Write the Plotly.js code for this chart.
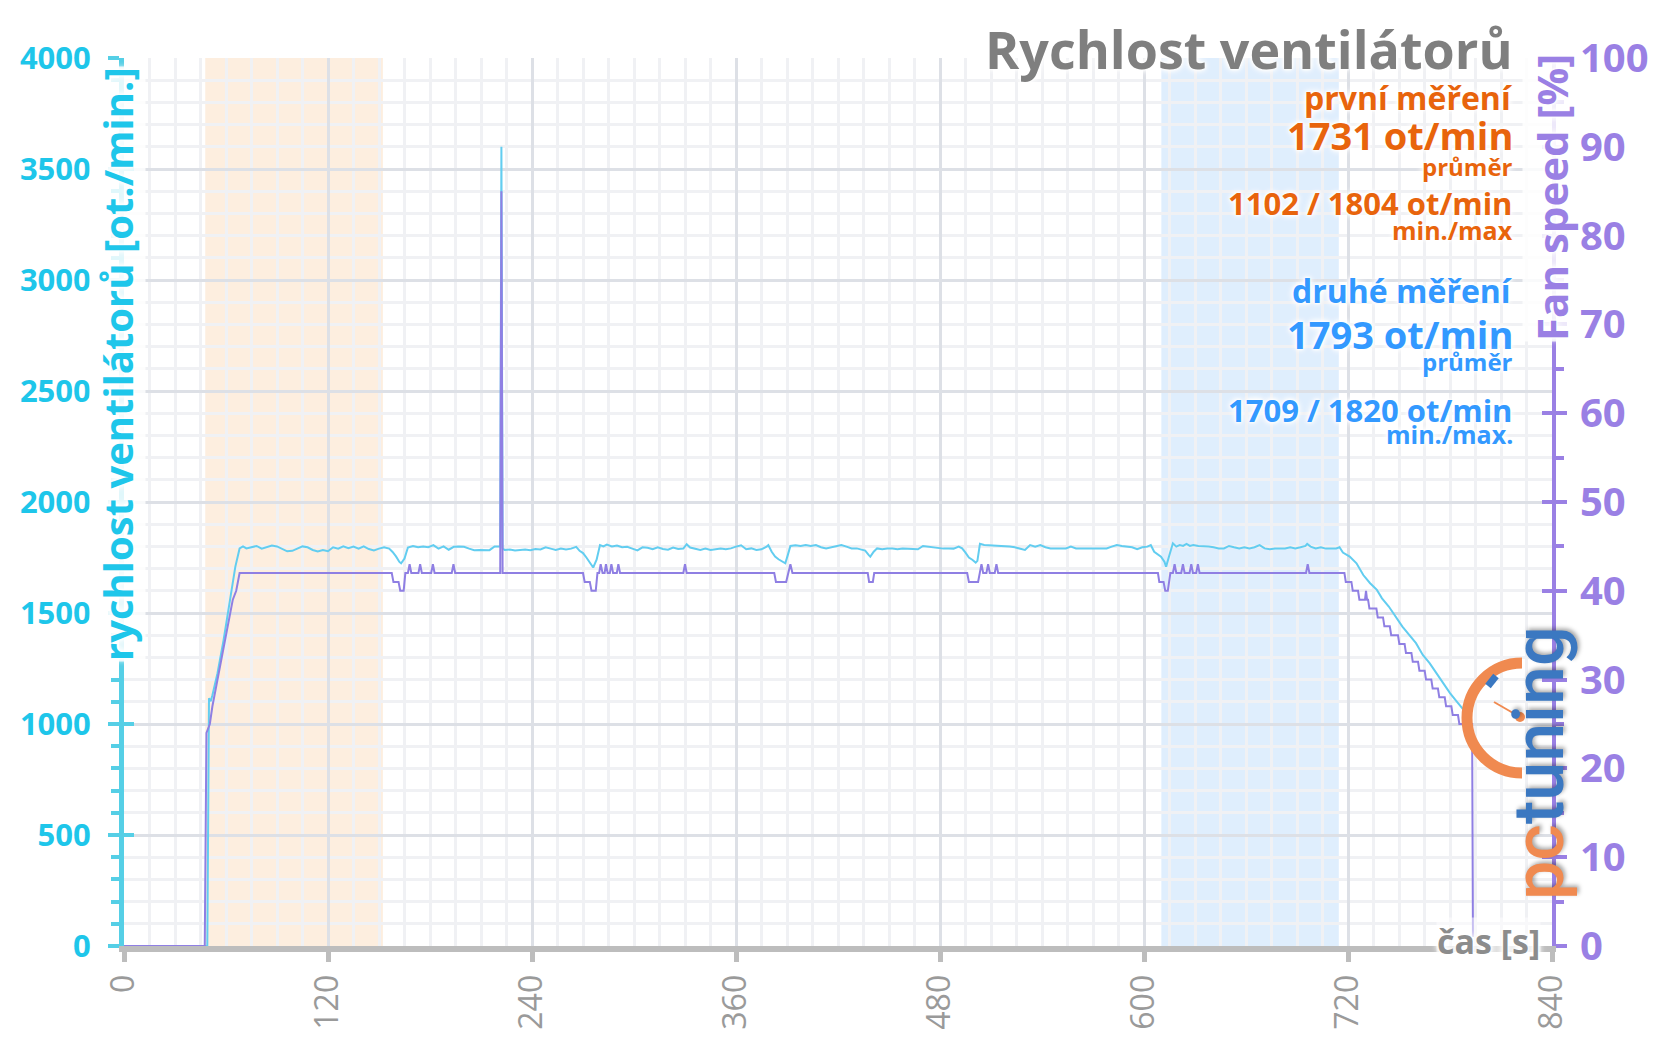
<!DOCTYPE html>
<html>
<head>
<meta charset="utf-8">
<script src="https://cdn.plot.ly/plotly-3.0.1.min.js"></script>
<style>
html,body{margin:0;padding:0;background:#fff;}
#chart{width:1656px;height:1044px;}
</style>
</head>
<body>
<div id="chart"></div>
<script>
// ---------- DATA ----------
const chartTitle = 'Rychlost ventilátorů';
const leftAxisTitle = 'rychlost ventilátorů [ot./min.]';
const rightAxisTitle = 'Fan speed [%]';
const xAxisLabel = 'čas [s]';

// time [s] and fan RPM (left axis)
const rpmTime = [
  0,49,50,51,52,55,58.6,62.5,65.5,68,
  70,72,75,78,81,84,87,90,93,96,
  99,102,105,108,111,114,117,120,123,126,
  129,132,135,138,141,144,147,150,153,156,
  158,160,162,163,165,167,170,173,176,179,
  182,185,188,191,194,197,200,203,206,209,
  212,215,218,220,221.3,222,222.7,224,227,230,
  233,236,239,242,245,248,251,254,257,260,
  263,266,268,270,272,274,276,278,280,282,
  284,287,290,293,296,299,302,305,308,311,
  314,317,320,323,326,329,331,333,336,339,
  342,345,348,351,354,357,360,363,366,369,
  372,375,378,379,381,383,385,387,389,390.5,
  392,395,398,401,404,407,410,413,416,419,
  422,425,428,431,434,436,438,439,441,443,
  446,449,452,455,458,461,464,467,470,473,
  476,479,482,485,488,491,493,495,497,499,
  501,502,503.5,506,509,512,515,518,521,524,
  527,530,533,536,539,542,545,548,551,554,
  557,560,563,566,569,572,575,578,581,584,
  587,590,593,596,599,602,604,606,608,610,
  612,613,615,617,619,621,623,625,627,629,
  632,635,638,641,644,647,650,653,656,659,
  662,665,668,671,674,677,680,683,686,689,
  692,695,696,698,701,704,707,710,713,715,
  717,721,725,729,733,737,740,744,748,752,
  756,760,764,768,772,776,780,784,788,791,
  793
];
const rpmValues = [
  0,0,1116,1102,1130,1229,1379,1574,1709,1791,
  1800,1791,1796,1802,1790,1798,1804,1800,1790,1778,
  1780,1790,1800,1796,1784,1777,1784,1778,1796,1790,
  1800,1792,1799,1790,1800,1788,1782,1790,1796,1790,
  1775,1755,1730,1724,1745,1795,1802,1796,1800,1796,
  1806,1790,1800,1785,1798,1800,1798,1790,1783,1784,
  1785,1783,1800,1802,1800,3600,1790,1784,1786,1782,
  1785,1786,1783,1788,1786,1796,1790,1784,1790,1786,
  1790,1798,1780,1770,1750,1730,1705,1740,1806,1800,
  1808,1800,1804,1796,1798,1790,1782,1796,1794,1787,
  1796,1788,1785,1795,1788,1790,1810,1795,1788,1784,
  1790,1784,1787,1790,1787,1791,1799,1805,1787,1791,
  1784,1787,1799,1806,1776,1754,1742,1731,1724,1762,
  1802,1805,1802,1806,1802,1806,1796,1791,1796,1799,
  1806,1799,1791,1791,1787,1781,1762,1754,1776,1791,
  1787,1791,1790,1787,1791,1790,1791,1787,1802,1799,
  1796,1791,1790,1791,1790,1799,1791,1772,1750,1740,
  1727,1735,1812,1806,1805,1802,1802,1799,1799,1796,
  1791,1784,1806,1799,1806,1796,1791,1791,1791,1791,
  1799,1791,1791,1790,1791,1790,1791,1791,1799,1806,
  1802,1799,1796,1787,1796,1799,1806,1776,1766,1754,
  1731,1709,1762,1814,1799,1806,1802,1811,1802,1806,
  1802,1802,1799,1796,1791,1791,1802,1796,1791,1796,
  1791,1796,1806,1791,1787,1791,1790,1791,1796,1791,
  1796,1802,1811,1799,1791,1796,1790,1791,1791,1796,
  1772,1754,1724,1671,1634,1604,1566,1529,1484,1439,
  1401,1364,1311,1274,1229,1184,1139,1101,1064,1011,
  990
];

// time [s] and fan speed [%] (right axis)
const pctTime = [
  0,47.5,48.5,50.5,52,54,56,58,60,62,64,66,68,
  157.5,158.5,161.5,162.5,164.5,165.5,167,168,169,173.2,174.2,175.2,180.7,181.7,182.7,192.8,193.8,194.8,
  221.3,222,222.7,
  270,271,274,275,277.5,278.5,279.5,280.4,281.5,282.7,283.5,284.5,285.8,286.7,287.7,289.9,290.8,291.8,
  329,330,331,
  382.5,383.5,389.5,392,393.2,
  437.5,438.3,440.5,441.3,
  496,497,502.4,504.4,505.4,507.3,508.3,509.3,512.2,513.2,514.2,
  608.2,609,611.5,612.5,614,615.5,617,618,619,621.9,622.9,623.9,626.8,627.8,628.8,630.7,631.7,632.7,
  695.3,696.3,697.3,
  717.9,718.7,722,722.8,725.9,726.7,730,730.6,731.2,731.8,
  732.6,736.7,737.5,740.6,741.4,744.6,745.4,749.4,750.2,753.3,
  754.1,757.3,758.1,761.2,762,765.1,765.9,769,769.8,772.9,
  773.7,776.9,777.7,780.8,781.6,784.7,785.5,793,793.5
];
const pctValues = [
  0,0,24,25,27,29,31,33,35,37,39,40,42,
  42,41,41,40,40,42,42,43,42,42,43,42,42,43,42,42,43,42,
  42,85,42,
  42,41,41,40,40,42,42,43,42,42,43,42,42,43,42,42,43,42,
  42,43,42,
  42,41,41,43,42,
  42,41,41,42,
  42,41,41,43,42,42,43,42,42,43,42,
  42,41,41,40,40,42,42,43,42,42,43,42,42,43,42,42,43,42,
  42,43,42,
  42,41,41,40,40,39,39,40,39,39,
  38,38,37,37,36,36,35,35,34,34,
  33,33,32,32,31,31,30,30,29,29,
  28,28,27,27,26,26,25,25,1
];

// measurement windows [s]
const firstWindow = [47.8, 152.3];
const secondWindow = [610.2, 714.6];

// summary texts
const firstLabel = 'první měření';
const firstAvg = '1731 ot/min';
const firstMinMax = '1102 / 1804 ot/min';
const secondLabel = 'druhé měření';
const secondAvg = '1793 ot/min';
const secondMinMax = '1709 / 1820 ot/min';
const avgWord = 'průměr';

// ---------- STYLE ----------
const FONT = 'Open Sans, Noto Sans, sans-serif';
const CYAN = '#1ec6ea';
const CYAN_LINE = '#55cfe6';
const PURPLE = '#9a80e4';
const ORANGE = '#e8640c';
const BLUE = '#3399ff';
const GLOW = '0px 0px 3px #fff, 0px 0px 3px #fff, 0px 0px 5px #fff, 0px 0px 7px #fff, 0px 0px 9px #fff';

const W = 1656, H = 1044;
const M = {l:124, r:104, t:58, b:98};
const PW = W - M.l - M.r, PH = H - M.t - M.b;
// pixel -> paper helpers for decorative logo / text placement only
const px = X => (X - M.l) / PW;
const py = Y => (H - M.b - Y) / PH;

const traces = [
  {x: rpmTime, y: rpmValues, type: 'scatter', mode: 'lines', yaxis: 'y',
   line: {color: '#62cdf0', width: 2}, hoverinfo: 'skip'},
  {x: pctTime, y: pctValues, type: 'scatter', mode: 'lines', yaxis: 'y2',
   line: {color: '#8f7fe3', width: 2}, hoverinfo: 'skip'},
  {x: [], y: [], yaxis: 'y3', type: 'scatter', hoverinfo: 'skip'},
  {x: [], y: [], yaxis: 'y4', type: 'scatter', hoverinfo: 'skip'}
];

function ann(text, y, size, color, extra) {
  return Object.assign({
    text: text, xref: 'paper', yref: 'paper', x: px(1515), y: y,
    xanchor: 'right', yanchor: 'middle', showarrow: false,
    font: {family: FONT, size: size, color: color, weight: 700, shadow: GLOW}
  }, extra || {});
}

const annotations = [
  ann(chartTitle, py(48), 52, '#7f7f7f'),
  ann(firstLabel, py(97), 32, ORANGE),
  ann(firstAvg, py(135), 38, ORANGE),
  ann(avgWord, py(166), 24, ORANGE),
  ann(firstMinMax, py(203), 31, ORANGE),
  ann('min./max', py(230), 25, ORANGE),
  ann(secondLabel, py(290), 32, BLUE),
  ann(secondAvg, py(334), 38, BLUE),
  ann(avgWord, py(362), 24, BLUE),
  ann(secondMinMax, py(410), 31, BLUE),
  ann('min./max.', py(434), 25, BLUE),
  {text: leftAxisTitle, xref: 'paper', yref: 'paper', x: px(117), y: py(364),
   xanchor: 'center', yanchor: 'middle', textangle: -90, showarrow: false,
   bgcolor: 'rgba(255,255,255,0.82)', borderpad: 0,
   font: {family: FONT, size: 40, color: CYAN, weight: 700, shadow: GLOW}},
  {text: rightAxisTitle, xref: 'paper', yref: 'paper', x: px(1551), y: py(198),
   xanchor: 'center', yanchor: 'middle', textangle: -90, showarrow: false,
   bgcolor: 'rgba(255,255,255,0.82)', borderpad: 0,
   font: {family: FONT, size: 42, color: PURPLE, weight: 700, shadow: GLOW}},
  {text: xAxisLabel, xref: 'paper', yref: 'paper', x: px(1541), y: py(941),
   xanchor: 'right', yanchor: 'middle', showarrow: false,
   bgcolor: 'rgba(255,255,255,0.5)', borderpad: 0,
   font: {family: FONT, size: 34, color: '#8c8c8c', weight: 700, shadow: GLOW}},
  // logo
  {text: '<span style="fill:#f08a50">pc</span><span style="fill:#3b78c1">tuning</span>',
   xref: 'paper', yref: 'paper', x: px(1539), y: py(763),
   xanchor: 'center', yanchor: 'middle', textangle: -90, showarrow: false,
   font: {family: 'Roboto, sans-serif', size: 70, color: '#3b78c1', weight: 500,
          shadow: '2px 2px 4px rgba(0,0,0,0.35)'}}
];

// gauge arc (decoration)
const gx = 1522, gy = 718, gr = 55, k = 0.5523;
const arcPath = 'M ' + px(gx) + ',' + py(gy - gr) +
  ' C ' + px(gx - k*gr) + ',' + py(gy - gr) + ' ' + px(gx - gr) + ',' + py(gy - k*gr) + ' ' + px(gx - gr) + ',' + py(gy) +
  ' C ' + px(gx - gr) + ',' + py(gy + k*gr) + ' ' + px(gx - k*gr) + ',' + py(gy + gr) + ' ' + px(gx) + ',' + py(gy + gr);

const shapes = [
  {type: 'rect', xref: 'x', yref: 'paper', x0: firstWindow[0], x1: firstWindow[1], y0: 0, y1: 1,
   fillcolor: 'rgba(250,200,150,0.30)', line: {width: 0}, layer: 'between'},
  {type: 'rect', xref: 'x', yref: 'paper', x0: secondWindow[0], x1: secondWindow[1], y0: 0, y1: 1,
   fillcolor: 'rgba(150,200,250,0.30)', line: {width: 0}, layer: 'between'},
  {type: 'path', xref: 'paper', yref: 'paper', path: arcPath,
   line: {color: '#f08a50', width: 11}, layer: 'above'},
  {type: 'line', xref: 'paper', yref: 'paper', x0: px(1494), y0: py(702), x1: px(1520), y1: py(717),
   line: {color: '#f08a50', width: 2}, layer: 'above'},
  {type: 'circle', xref: 'paper', yref: 'paper', x0: px(1515), y0: py(712), x1: px(1525), y1: py(722),
   fillcolor: '#f08a50', line: {width: 0}, layer: 'above'},
  {type: 'line', xref: 'paper', yref: 'paper', x0: px(1488), y0: py(686), x1: px(1496), y1: py(676),
   line: {color: '#3b78c1', width: 7}, layer: 'above'}
];

const layout = {
  width: W, height: H,
  margin: M,
  paper_bgcolor: '#fff', plot_bgcolor: '#fff',
  showlegend: false,
  xaxis: {
    range: [0, 840], tick0: 0, dtick: 120, tickangle: -90,
    tickfont: {family: FONT, size: 32, color: '#9a9a9a'},
    showline: true, linecolor: '#bdbdbd', linewidth: 6,
    ticks: 'outside', ticklen: 10, tickwidth: 5, tickcolor: '#bdbdbd',
    showgrid: true, gridcolor: '#dde0e6', gridwidth: 3, zeroline: false,
    minor: {dtick: 15, tick0: 0, showgrid: true, gridcolor: '#f0f1f4', gridwidth: 3}
  },
  yaxis: {
    range: [0, 4000], tick0: 0, dtick: 500,
    tickfont: {family: FONT, size: 31, color: CYAN, weight: 700},
    showline: true, linecolor: CYAN_LINE, linewidth: 5,
    ticks: 'outside', ticklen: 11, tickwidth: 4, tickcolor: CYAN_LINE,
    ticklabelstandoff: 11,
    showgrid: true, gridcolor: '#dde0e6', gridwidth: 3, zeroline: false,
    minor: {dtick: 100, tick0: 0, showgrid: true, gridcolor: '#f0f1f4', gridwidth: 3,
            ticks: 'outside', ticklen: 8, tickwidth: 4, tickcolor: CYAN_LINE}
  },
  yaxis2: {
    overlaying: 'y', side: 'right', anchor: 'x',
    range: [0, 100], tick0: 0, dtick: 10,
    tickfont: {family: FONT, size: 40, color: PURPLE, weight: 700},
    showline: true, linecolor: PURPLE, linewidth: 4,
    ticks: 'outside', ticklen: 11, tickwidth: 4, tickcolor: PURPLE,
    ticklabelstandoff: 5,
    showgrid: false, zeroline: false,
    minor: {dtick: 5, tick0: 0, ticks: 'outside', ticklen: 8, tickwidth: 4, tickcolor: PURPLE, showgrid: false}
  },
  yaxis3: {
    overlaying: 'y', side: 'left', anchor: 'x', range: [0, 4000], dtick: 500, tick0: 0,
    ticks: 'inside', ticklen: 10, tickwidth: 4, tickcolor: CYAN_LINE,
    showticklabels: false, showgrid: false, showline: false, zeroline: false
  },
  yaxis4: {
    overlaying: 'y', side: 'right', anchor: 'x', range: [0, 100], dtick: 10, tick0: 0,
    ticks: 'inside', ticklen: 10, tickwidth: 4, tickcolor: PURPLE,
    showticklabels: false, showgrid: false, showline: false, zeroline: false
  },
  annotations: annotations,
  shapes: shapes
};

Plotly.newPlot('chart', traces, layout, {staticPlot: true, displayModeBar: false});
</script>
</body>
</html>
